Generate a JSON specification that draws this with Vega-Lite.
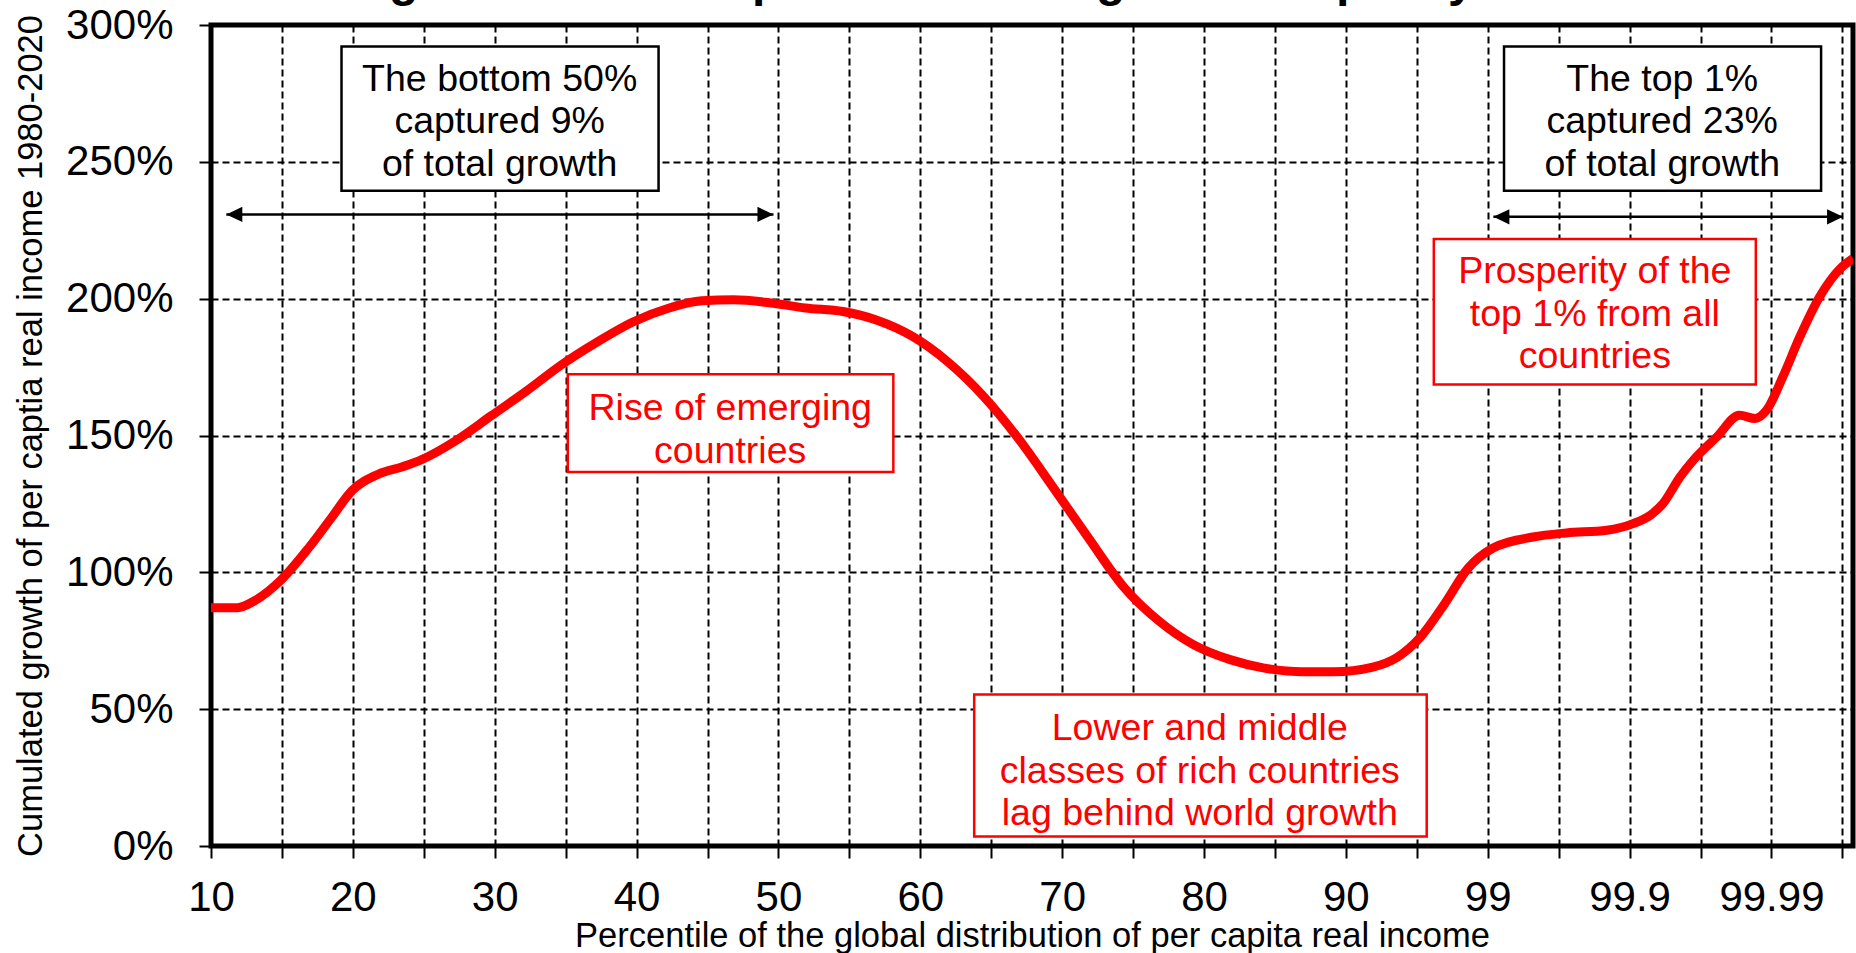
{
  "$schema": "https://vega.github.io/schema/vega-lite/v6.json",
  "width": 1642,
  "height": 821,
  "autosize": "none",
  "padding": {"left": 211, "top": 25, "right": 3, "bottom": 107},
  "background": "white",
  "config": {
    "view": {"stroke": "black", "strokeWidth": 5},
    "font": "Liberation Sans"
  },
  "title": {
    "text": "Figure 10. The elephant curve of global inequality 1980-2020",
    "font": "Liberation Sans",
    "fontSize": 48,
    "fontWeight": "bold",
    "color": "black",
    "anchor": "middle",
    "frame": "group",
    "baseline": "alphabetic",
    "offset": 0,
    "dy": 40
  },
  "datasets": {
    "curve": [
      {"idx": 0, "growth": 87.1},
      {"idx": 0.37, "growth": 87.1},
      {"idx": 0.62, "growth": 89.7},
      {"idx": 0.98, "growth": 97.0},
      {"idx": 1.37, "growth": 108.7},
      {"idx": 1.70, "growth": 120.0},
      {"idx": 1.99, "growth": 129.9},
      {"idx": 2.37, "growth": 136.0},
      {"idx": 2.70, "growth": 138.6},
      {"idx": 2.97, "growth": 141.2},
      {"idx": 3.45, "growth": 148.1},
      {"idx": 3.95, "growth": 157.2},
      {"idx": 4.45, "growth": 166.3},
      {"idx": 4.94, "growth": 175.8},
      {"idx": 5.46, "growth": 184.4},
      {"idx": 5.94, "growth": 191.4},
      {"idx": 6.46, "growth": 196.6},
      {"idx": 6.92, "growth": 199.2},
      {"idx": 7.37, "growth": 199.6},
      {"idx": 7.93, "growth": 198.3},
      {"idx": 8.38, "growth": 196.6},
      {"idx": 8.91, "growth": 195.3},
      {"idx": 9.38, "growth": 192.2},
      {"idx": 9.89, "growth": 186.2},
      {"idx": 10.38, "growth": 177.1},
      {"idx": 10.90, "growth": 164.1},
      {"idx": 11.38, "growth": 149.0},
      {"idx": 11.88, "growth": 130.8},
      {"idx": 12.38, "growth": 112.2},
      {"idx": 12.86, "growth": 94.9},
      {"idx": 13.38, "growth": 81.9},
      {"idx": 13.85, "growth": 73.6},
      {"idx": 14.38, "growth": 68.0},
      {"idx": 14.85, "growth": 65.0},
      {"idx": 15.38, "growth": 63.7},
      {"idx": 15.83, "growth": 63.7},
      {"idx": 16.38, "growth": 65.4},
      {"idx": 16.72, "growth": 68.9},
      {"idx": 17.05, "growth": 76.3},
      {"idx": 17.39, "growth": 88.4},
      {"idx": 17.72, "growth": 101.4},
      {"idx": 18.07, "growth": 108.8},
      {"idx": 18.64, "growth": 112.9},
      {"idx": 19.11, "growth": 114.4},
      {"idx": 19.68, "growth": 115.4},
      {"idx": 20.05, "growth": 117.8},
      {"idx": 20.30, "growth": 121.0},
      {"idx": 20.47, "growth": 125.1},
      {"idx": 20.71, "growth": 134.8},
      {"idx": 20.90, "growth": 141.0},
      {"idx": 21.23, "growth": 149.5},
      {"idx": 21.55, "growth": 157.4},
      {"idx": 21.77, "growth": 156.2},
      {"idx": 21.93, "growth": 159.2},
      {"idx": 22.16, "growth": 171.4},
      {"idx": 22.40, "growth": 186.0},
      {"idx": 22.68, "growth": 200.7},
      {"idx": 22.97, "growth": 211.0},
      {"idx": 23.15, "growth": 214.7}
    ],
    "boxes": [
      {"kind": "share", "x1": 1.84, "x2": 6.31, "y1": 239.4, "y2": 292.1, "tx": 4.07, "ty": 280.0, "label": "The bottom 50%\ncaptured 9%\nof total growth"},
      {"kind": "share", "x1": 18.23, "x2": 22.70, "y1": 239.4, "y2": 292.1, "tx": 20.46, "ty": 280.0, "label": "The top 1%\ncaptured 23%\nof total growth"},
      {"kind": "phase", "x1": 5.03, "x2": 9.62, "y1": 136.7, "y2": 172.4, "tx": 7.32, "ty": 159.6, "label": "Rise of emerging\ncountries"},
      {"kind": "phase", "x1": 10.76, "x2": 17.14, "y1": 3.5, "y2": 55.4, "tx": 13.94, "ty": 42.6, "label": "Lower and middle\nclasses of rich countries\nlag behind world growth"},
      {"kind": "phase", "x1": 17.24, "x2": 21.78, "y1": 168.6, "y2": 221.8, "tx": 19.51, "ty": 209.6, "label": "Prosperity of the\ntop 1% from all\ncountries"}
    ],
    "arrows": [
      {"from": 0.216, "to": 7.93, "level": 230.8},
      {"from": 18.08, "to": 23.01, "level": 229.9}
    ]
  },
  "layer": [
    {
      "data": {"name": "curve"},
      "mark": {"type": "line", "color": "#ff0000", "strokeWidth": 9, "interpolate": "monotone", "clip": true},
      "encoding": {
        "x": {
          "field": "idx", "type": "quantitative",
          "scale": {"domain": [0, 23.15], "nice": false, "zero": false},
          "axis": {
            "title": "Percentile of the global distribution of per capita real  income",
            "values": [0,1,2,3,4,5,6,7,8,9,10,11,12,13,14,15,16,17,18,19,20,21,22,23],
            "labelExpr": "['10','','20','','30','','40','','50','','60','','70','','80','','90','','99','','99.9','','99.99',''][datum.value]",
            "grid": true, "gridColor": "black", "gridDash": [7, 4], "gridWidth": 2, "gridOpacity": 1,
            "domain": false,
            "ticks": true, "tickSize": 12, "tickWidth": 2, "tickColor": "black",
            "labelFont": "Liberation Sans", "labelFontSize": 42, "labelColor": "black",
            "labelPadding": 19, "labelFlush": false, "labelOverlap": false,
            "titleFont": "Liberation Sans", "titleFontSize": 34.5, "titleFontWeight": "normal", "titleColor": "black",
            "titlePadding": 1
          }
        },
        "y": {
          "field": "growth", "type": "quantitative",
          "scale": {"domain": [0, 300], "nice": false},
          "axis": {
            "title": "Cumulated growth of per captia real income 1980-2020",
            "values": [0, 50, 100, 150, 200, 250, 300],
            "labelExpr": "datum.value + '%'",
            "grid": true, "gridColor": "black", "gridDash": [7, 4], "gridWidth": 2, "gridOpacity": 1,
            "domain": false,
            "ticks": true, "tickSize": 12, "tickWidth": 2, "tickColor": "black",
            "labelFont": "Liberation Sans", "labelFontSize": 42, "labelColor": "black",
            "labelPadding": 26, "labelFlush": false, "labelOverlap": false,
            "titleFont": "Liberation Sans", "titleFontSize": 34.5, "titleFontWeight": "normal", "titleColor": "black",
            "titlePadding": 17
          }
        }
      }
    },
    {
      "data": {"name": "boxes"},
      "mark": {"type": "rect", "fill": "white", "strokeWidth": 2.5},
      "encoding": {
        "x": {"field": "x1", "type": "quantitative"},
        "x2": {"field": "x2"},
        "y": {"field": "y1", "type": "quantitative"},
        "y2": {"field": "y2"},
        "stroke": {"field": "kind", "type": "nominal", "scale": {"domain": ["share", "phase"], "range": ["black", "#ff0000"]}, "legend": null}
      }
    },
    {
      "data": {"name": "boxes"},
      "mark": {"type": "text", "font": "Liberation Sans", "fontSize": 37.5, "lineBreak": "\n", "lineHeight": 42.5, "align": "center", "baseline": "middle"},
      "encoding": {
        "x": {"field": "tx", "type": "quantitative"},
        "y": {"field": "ty", "type": "quantitative"},
        "text": {"field": "label"},
        "color": {"field": "kind", "type": "nominal", "scale": {"domain": ["share", "phase"], "range": ["black", "#ff0000"]}, "legend": null}
      }
    },
    {
      "data": {"name": "arrows"},
      "mark": {"type": "rule", "color": "black", "strokeWidth": 2.5},
      "encoding": {
        "x": {"field": "from", "type": "quantitative"},
        "x2": {"field": "to"},
        "y": {"field": "level", "type": "quantitative"}
      }
    },
    {
      "data": {"name": "arrows"},
      "mark": {"type": "point", "shape": "M0,0L2,-0.95L2,0.95Z", "filled": true, "color": "black", "opacity": 1, "size": 256},
      "encoding": {
        "x": {"field": "from", "type": "quantitative"},
        "y": {"field": "level", "type": "quantitative"}
      }
    },
    {
      "data": {"name": "arrows"},
      "mark": {"type": "point", "shape": "M0,0L-2,-0.95L-2,0.95Z", "filled": true, "color": "black", "opacity": 1, "size": 256},
      "encoding": {
        "x": {"field": "to", "type": "quantitative"},
        "y": {"field": "level", "type": "quantitative"}
      }
    }
  ]
}
